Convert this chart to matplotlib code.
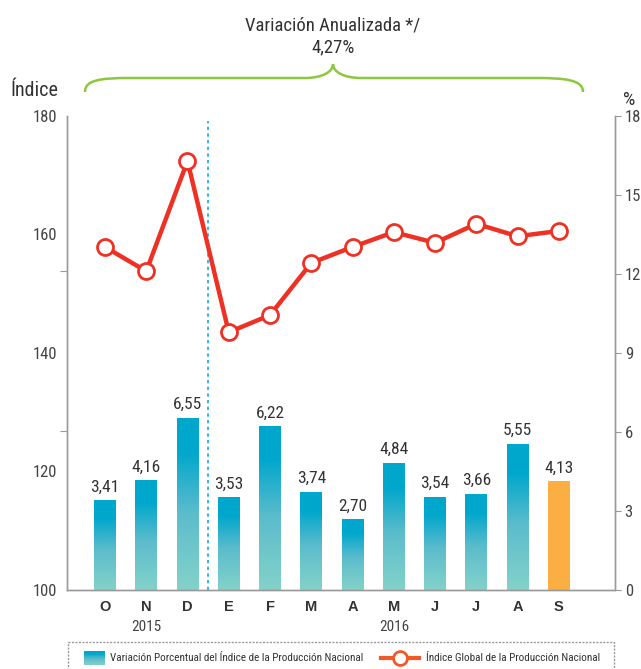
import matplotlib
matplotlib.use("Agg")
import matplotlib.pyplot as plt
import numpy as np
from matplotlib.path import Path
from matplotlib.patches import PathPatch, Rectangle
from matplotlib.colors import LinearSegmentedColormap
from matplotlib.lines import Line2D
from matplotlib import font_manager

names = {f.name for f in font_manager.fontManager.ttflist}
narrow = None
for cand in ['Liberation Sans Narrow', 'DejaVu Sans Condensed', 'Roboto Condensed',
             'Open Sans Condensed', 'Arial Narrow', 'Noto Sans Condensed']:
    if cand in names:
        narrow = cand
        break
fam = ([narrow] if narrow else []) + ['Liberation Sans', 'DejaVu Sans']
plt.rcParams['font.family'] = fam
k = 1.0 if narrow else 0.85  # shrink when no narrow face exists

# ---- data ----
months = ['O', 'N', 'D', 'E', 'F', 'M', 'A', 'M', 'J', 'J', 'A', 'S']
years = ['2015', '2016']
year_pos = [1, 7]
variacion = [3.41, 4.16, 6.55, 3.53, 6.22, 3.74, 2.70, 4.84, 3.54, 3.66, 5.55, 4.13]
indice = [157.9, 153.8, 172.4, 143.5, 146.4, 155.2, 157.9, 160.4, 158.6, 161.8, 159.7, 160.6]
left_ticks = [100, 120, 140, 160, 180]
right_ticks = [0, 3, 6, 9, 12, 15, 18]
title1 = 'Variación Anualizada */'
title2 = '4,27%'
legend_bar = 'Variación Porcentual del Índice de la Producción Nacional'
legend_line = 'Índice Global de la Producción Nacional'

W, H = 641, 669
fig = plt.figure(figsize=(W / 100, H / 100), dpi=100)

L, R, T, B = 67, 615, 116, 590
ax = fig.add_axes([L / W, 1 - B / H, (R - L) / W, (B - T) / H])
ax2 = ax.twinx()

x = np.arange(len(months))
ax.set_xlim(-0.92, 12.36)
ax.set_ylim(100, 180)
ax2.set_ylim(0, 18)

# bars with gradient on right axis
cmap = LinearSegmentedColormap.from_list('g', [(0, '#84d2c9'), (0.45, '#5bbccc'),
                                               (0.8, '#00a7cc'), (1, '#00a7cc')])
bw = 0.53
bars = ax2.bar(x, variacion, width=bw, color='none', edgecolor='none')
grad = np.linspace(0, 1, 256).reshape(-1, 1)
for i, (b, v) in enumerate(zip(bars, variacion)):
    if i == len(variacion) - 1:
        b.set_facecolor('#fbae42')
    else:
        im = ax2.imshow(grad, cmap=cmap, origin='lower', aspect='auto',
                        extent=[b.get_x(), b.get_x() + bw, 0, v], zorder=2)
        im.set_clip_path(b)
    ax2.annotate(f'{v:.2f}'.replace('.', ','), (b.get_x() + bw / 2, v),
                 xytext=(0, 4), textcoords='offset points', ha='center', va='bottom',
                 fontsize=12.5 * k, color='#333333')
ax2.set_xlim(-0.92, 12.36)
ax2.set_ylim(0, 18)

# line on left axis
ax.set_zorder(ax2.get_zorder() + 1)
ax.patch.set_visible(False)
ax.plot(x, indice, color='#ee3124', lw=3.2, marker='o', ms=11.5,
        mfc='white', mec='#ee3124', mew=2, zorder=5, clip_on=False)

# divider
ax.axvline(2.5, ymin=0, ymax=0.99, color='#1aa9e6', lw=1.2, ls=(0, (2, 2)))

# spines
for a in (ax, ax2):
    a.spines['top'].set_visible(False)
    for s in ('left', 'right', 'bottom'):
        a.spines[s].set_color('#9a9a9a')
        a.spines[s].set_linestyle((0, (1.5, 1)))
        a.spines[s].set_linewidth(1.0)

ax.set_yticks(left_ticks)
ax.set_yticklabels([str(t) for t in left_ticks])
ax.set_yticks([100, 126.8, 153.8, 180], minor=True)
ax.tick_params(axis='y', which='major', length=0, pad=7, labelsize=12 * k, labelcolor='#444444')
ax.tick_params(axis='y', which='minor', length=5, color='#9a9a9a', width=0.8)
ax2.set_yticks(right_ticks)
ax2.tick_params(axis='y', length=4, color='#9a9a9a', width=0.8, pad=3,
                labelsize=12 * k, labelcolor='#444444')

ax.set_xticks(x)
ax.set_xticklabels(months, fontweight='bold', fontsize=10.5, color='#333333',
                   family=['Liberation Sans', 'DejaVu Sans'])
ax.tick_params(axis='x', length=0, pad=7)

# overlay in pixel coords
ov = fig.add_axes([0, 0, 1, 1], zorder=-1)
ov.set_xlim(0, W)
ov.set_ylim(H, 0)
ov.axis('off')

for yp, lbl in zip(year_pos, years):
    ov.text(105 + yp * 41.27, 627, lbl, ha='center', va='center', fontsize=11 * k, color='#444444')

ov.text(333, 25, title1, ha='center', va='center', fontsize=13.5 * k, color='#333333')
ov.text(333, 47, title2, ha='center', va='center', fontsize=13.5 * k, color='#333333')
ov.text(10, 90, 'Índice', ha='left', va='center', fontsize=14.5 * k, color='#333333')
ov.text(629, 100, '%', ha='center', va='center', fontsize=14 * k, color='#333333')

# brace
verts = [(85, 92), (85, 80), (100, 78), (130, 78),
         (305, 78),
         (322, 78), (333, 72), (333, 64),
         (333, 72), (344, 78), (361, 78),
         (536, 78),
         (566, 78), (583, 80), (583, 92)]
codes = [Path.MOVETO, Path.CURVE4, Path.CURVE4, Path.CURVE4,
         Path.LINETO,
         Path.CURVE4, Path.CURVE4, Path.CURVE4,
         Path.CURVE4, Path.CURVE4, Path.CURVE4,
         Path.LINETO,
         Path.CURVE4, Path.CURVE4, Path.CURVE4]
ov.add_patch(PathPatch(Path(verts, codes), fc='none', ec='#8dc63f', lw=1.8))

# legend
ov.add_patch(Rectangle((68, 642), 546, 40, fc='none', ec='#9a9a9a', lw=1.0,
                       ls=(0, (1.5, 1))))
ov.imshow(grad[::-1], cmap=cmap, aspect='auto', extent=[84, 105, 665, 651], zorder=3)
ov.set_xlim(0, W)
ov.set_ylim(H, 0)
ov.text(110, 658, legend_bar, ha='left', va='center', fontsize=8 * k, color='#333333')
ov.add_line(Line2D([381, 419], [658, 658], color='#f05a28', lw=3))
ov.add_line(Line2D([400], [658], marker='o', ms=10, mfc='white', mec='#f05a28', mew=2))
ov.text(426, 658, legend_line, ha='left', va='center', fontsize=8 * k, color='#333333')

fig.savefig('out.png', dpi=100)
